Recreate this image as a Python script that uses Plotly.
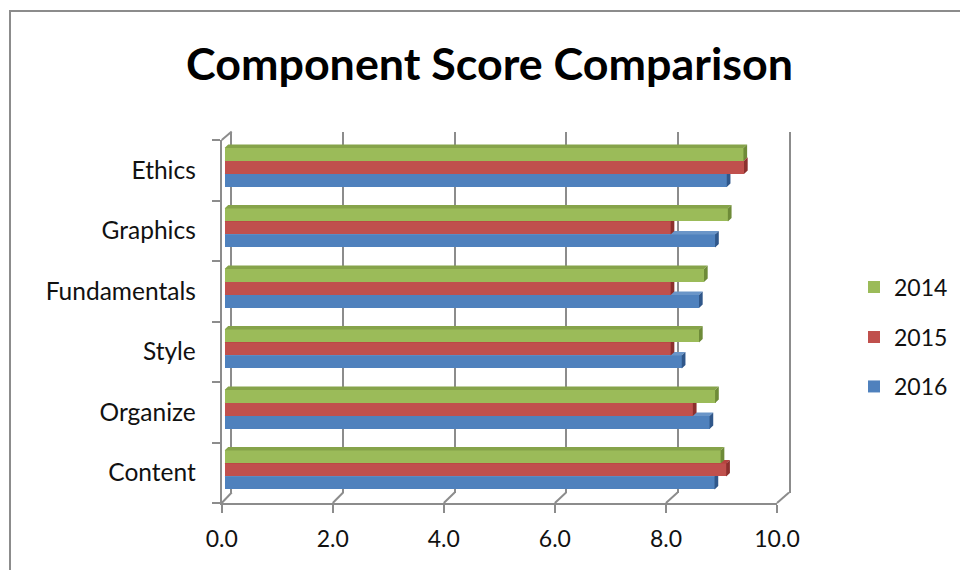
import plotly.graph_objects as go

# ---- data -------------------------------------------------------------
categories = ["Content", "Organize", "Style", "Fundamentals", "Graphics", "Ethics"]
scores_2014 = [8.93, 8.83, 8.54, 8.63, 9.06, 9.34]
scores_2015 = [9.03, 8.43, 8.03, 8.03, 8.03, 9.35]
scores_2016 = [8.82, 8.73, 8.23, 8.54, 8.83, 9.04]
x_ticks = [0, 2, 4, 6, 8, 10]

# ---- geometry / style ---------------------------------------------------
W, H = 960, 570
GRAY = "#8C8C8C"
FONT = "Lato"
TXT = "#111111"


def dom_x(left, right):
    return [left / W, right / W]


def dom_y(top, bottom):
    return [1 - bottom / H, 1 - top / H]


# back wall, front axes and bar plane (pixel extents)
BACK = dict(x=(231.7, 789.0), y=(131.5, 492.5))
FRONT = dict(x=(221.7, 777.0), y=(140.0, 503.0))
BARS = dict(x=(224.5, 780.1), y=(137.3, 500.3))

positions = list(range(len(categories)))
y_range = [-0.5, len(categories) - 0.5]
x_range = [0, 10]

bar_w = 0.215
# pixel depth of the bar extrusion, converted to data units of the bar plane
px_per_x = (BARS["x"][1] - BARS["x"][0]) / (x_range[1] - x_range[0])
px_per_y = (BARS["y"][1] - BARS["y"][0]) / (y_range[1] - y_range[0])
dx = 3.7 / px_per_x
dy = 3.5 / px_per_y

# (name, values, front colour, side colour, top colour, legend, offset)
series = [
    ("2016", scores_2016, "#4F81BD", "#30578A", "#6A95C8", "legend3", -1.5 * bar_w),
    ("2015", scores_2015, "#C0504D", "#8C302E", "#B8423F", "legend2", -0.5 * bar_w),
    ("2014", scores_2014, "#9BBB59", "#6E8B38", "#86A34A", "legend", 0.5 * bar_w),
]

fig = go.Figure()

# empty traces so the back-wall and front-axis subplots get drawn
for ax in ("", "2"):
    fig.add_trace(go.Scatter(x=[], y=[], mode="markers", showlegend=False,
                             hoverinfo="skip", xaxis="x" + ax, yaxis="y" + ax))

for k, (name, vals, c_front, c_side, c_top, leg, off) in enumerate(series):
    ax = str(3 + k)
    fig.add_trace(go.Bar(
        x=vals, y=positions, orientation="h", width=bar_w, offset=off,
        marker=dict(color=c_front, line=dict(width=0)),
        name=name, legend=leg, xaxis="x" + ax, yaxis="y" + ax,
        hovertemplate="%{x:.2f}<extra>" + name + "</extra>",
    ))
    side_x, side_y, top_x, top_y = [], [], [], []
    for p, v in zip(positions, vals):
        yb, yt = p + off, p + off + bar_w
        side_x += [v, v, v + dx, v + dx, v, None]
        side_y += [yb, yt, yt + dy, yb + dy, yb, None]
        top_x += [0, v, v + dx, dx, 0, None]
        top_y += [yt, yt, yt + dy, yt + dy, yt, None]
    for fx, fy, col in ((top_x, top_y, c_top), (side_x, side_y, c_side)):
        fig.add_trace(go.Scatter(
            x=fx, y=fy, mode="lines", fill="toself", fillcolor=col,
            line=dict(width=0, color=col), showlegend=False, hoverinfo="skip",
            xaxis="x" + ax, yaxis="y" + ax,
        ))

layout = dict(
    width=W, height=H,
    margin=dict(l=0, r=0, t=0, b=0, autoexpand=False),
    paper_bgcolor="white", plot_bgcolor="rgba(0,0,0,0)",
    font=dict(family=FONT, color=TXT),
    bargap=0, bargroupgap=0,
    # back wall with vertical grid lines
    xaxis=dict(domain=dom_x(*BACK["x"]), range=x_range, tickvals=x_ticks,
               showgrid=True, gridcolor=GRAY, gridwidth=2, showticklabels=False,
               ticks="", zeroline=False, showline=False, anchor="y",
               automargin=False, fixedrange=True),
    yaxis=dict(domain=dom_y(*BACK["y"]), range=y_range, showgrid=False,
               showline=True, mirror=True, linecolor=GRAY, linewidth=2,
               showticklabels=False, ticks="", zeroline=False, anchor="x",
               automargin=False, fixedrange=True),
    # front value axis and category axis
    xaxis2=dict(domain=dom_x(*FRONT["x"]), range=x_range, tickvals=x_ticks,
                tickformat=".1f", ticks="outside", ticklen=8, tickwidth=2,
                tickcolor=GRAY, showline=True, linecolor=GRAY, linewidth=2,
                showgrid=False, zeroline=False, anchor="y2", automargin=False,
                ticklabelstandoff=6,
                tickfont=dict(size=23, color=TXT), fixedrange=True),
    yaxis2=dict(domain=dom_y(*FRONT["y"]), range=y_range, tickvals=positions,
                ticktext=categories, ticks="", showline=True, linecolor=GRAY,
                linewidth=2, showgrid=False, zeroline=False, anchor="x2",
                minor=dict(tickvals=[p - 0.5 for p in positions + [len(positions)]],
                           ticks="outside", ticklen=8, tickwidth=2, tickcolor=GRAY),
                ticklabelstandoff=19, tickfont=dict(size=24.5, color=TXT),
                automargin=False, fixedrange=True),
    title=dict(text="<b>Component Score Comparison</b>", x=489.5 / W,
               xanchor="center", y=1 - 64 / H, yanchor="middle",
               font=dict(family=FONT, size=44.8, color="#000000")),
)

for k in range(3):
    ax = str(3 + k)
    layout["xaxis" + ax] = dict(domain=dom_x(*BARS["x"]), range=x_range,
                                visible=False, anchor="y" + ax, fixedrange=True)
    layout["yaxis" + ax] = dict(domain=dom_y(*BARS["y"]), range=y_range,
                                visible=False, anchor="x" + ax, fixedrange=True)

legend_y = {"legend": 287, "legend2": 337, "legend3": 386.5}
for leg, ypx in legend_y.items():
    layout[leg] = dict(x=854 / W, xanchor="left", y=1 - ypx / H, yanchor="middle",
                       font=dict(size=23, color=TXT), bgcolor="rgba(0,0,0,0)")

fig.update_layout(**layout)

# chart frame and floor / side-wall edges
shapes = [dict(type="rect", xref="paper", yref="paper", x0=10 / W, x1=1.2,
               y0=-0.2, y1=1 - 11 / H, line=dict(color=GRAY, width=2), layer="below")]


def back_px(t):
    return BACK["x"][0] + (BACK["x"][1] - BACK["x"][0]) * t / x_range[1]


def front_px(t):
    return FRONT["x"][0] + (FRONT["x"][1] - FRONT["x"][0]) * t / x_range[1]


for t in x_ticks:
    shapes.append(dict(type="line", xref="paper", yref="paper",
                       x0=back_px(t) / W, y0=1 - BACK["y"][1] / H,
                       x1=front_px(t) / W, y1=1 - FRONT["y"][1] / H,
                       line=dict(color=GRAY, width=2), layer="below"))
shapes.append(dict(type="line", xref="paper", yref="paper",
                   x0=FRONT["x"][0] / W, y0=1 - FRONT["y"][0] / H,
                   x1=BACK["x"][0] / W, y1=1 - BACK["y"][0] / H,
                   line=dict(color=GRAY, width=2), layer="below"))
fig.update_layout(shapes=shapes)

fig.write_html("out.html")
